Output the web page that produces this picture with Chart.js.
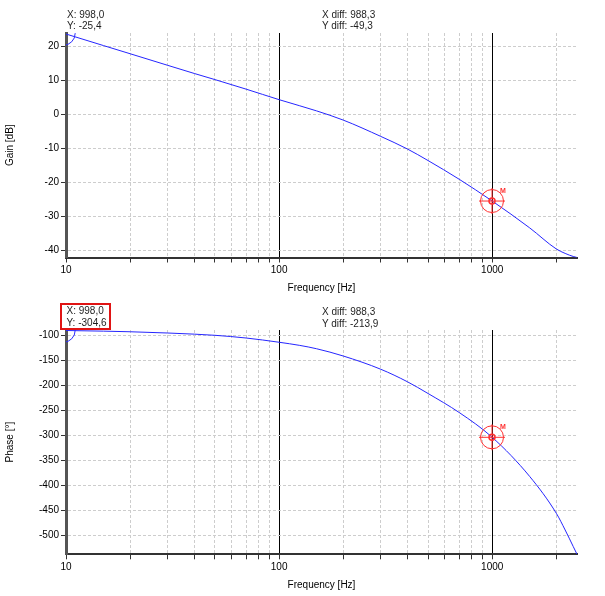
<!DOCTYPE html>
<html>
<head>
<meta charset="utf-8">
<script src="https://cdn.jsdelivr.net/npm/chart.js@4.4.0/dist/chart.umd.min.js"></script>
<style>
  body { margin: 0; background: #fff; }
  #page { position: relative; width: 605px; height: 596px; overflow: hidden; font-family: "Liberation Sans", Arial, sans-serif; }
  canvas { position: absolute; left: 0; }
  .note { position: absolute; font-size: 10px; line-height: 10px; color: #1e1e1e; white-space: nowrap; }
  .box { position: absolute; border: 2px solid #e01414; }
</style>
</head>
<body>
<div id="page">
  <canvas id="gainChart" width="605" height="295" style="top:0"></canvas>
  <canvas id="phaseChart" width="605" height="301" style="top:295px"></canvas>
  <div class="box" style="left:60px; top:303px; width:47px; height:23px"></div>
  <div class="note" id="gX" style="left:67px; top:9.5px"></div>
  <div class="note" id="gY" style="left:67px; top:20.5px"></div>
  <div class="note" id="gDX" style="left:322px; top:9.5px"></div>
  <div class="note" id="gDY" style="left:322px; top:20.5px"></div>
  <div class="note" id="pX" style="left:66.5px; top:306px"></div>
  <div class="note" id="pY" style="left:66.5px; top:318px"></div>
  <div class="note" id="pDX" style="left:322px; top:306.5px"></div>
  <div class="note" id="pDY" style="left:322px; top:319px"></div>
</div>
<script>
// frequency response
const freqHz   = [10, 15, 20, 30, 40, 50, 70, 100, 125, 150, 200, 300, 400, 500, 700, 1000, 1500, 2000, 2200, 2400, 2500];
const gainDb   = [23.7, 20.3, 17.9, 14.5, 12.1, 10.3, 7.5, 4.4, 2.6, 1.1, -1.6, -6.4, -10.1, -13.5, -19.0, -25.4, -33.3, -39.5, -40.8, -41.7, -42.0];
const phaseDeg = [-91, -92.3, -93.5, -96, -98.3, -100.6, -106, -114.5, -120.8, -127.5, -142, -168.5, -193.5, -217, -255, -304.6, -383, -456.7, -490, -523, -538.5];

const freqTicks  = [10, 20, 30, 40, 50, 60, 70, 80, 90, 100, 200, 300, 400, 500, 600, 700, 800, 900, 1000, 2000];
const freqLabels = [10, 100, 1000];
const gainTicks  = [20, 10, 0, -10, -20, -30, -40];
const phaseTicks = [-100, -150, -200, -250, -300, -350, -400, -450, -500];

const freqRange  = [10, 2500];
const gainRange  = [-42, 24];
const phaseRange = [-538.6, -90];

// reference cursor and marker M
const refFreq = 9.7, refGain = 23.9, refPhase = -90.7;
const markFreq = 998, markGain = -25.4, markPhase = -304.6;

const font = { family: '"Liberation Sans", Arial, sans-serif', size: 10 };
Chart.defaults.color = '#000';
Chart.defaults.font = font;

const fmt = v => v.toFixed(1).replace('.', ',');
document.getElementById('gX').textContent = 'X: ' + fmt(markFreq);
document.getElementById('gY').textContent = 'Y: ' + fmt(markGain);
document.getElementById('gDX').textContent = 'X diff: ' + fmt(markFreq - refFreq);
document.getElementById('gDY').textContent = 'Y diff: ' + fmt(markGain - refGain);
document.getElementById('pX').textContent = 'X: ' + fmt(markFreq);
document.getElementById('pY').textContent = 'Y: ' + fmt(markPhase);
document.getElementById('pDX').textContent = 'X diff: ' + fmt(markFreq - refFreq);
document.getElementById('pDY').textContent = 'Y diff: ' + fmt(markPhase - refPhase);

const cursorPlugin = {
  id: 'cursors',
  afterDatasetsDraw(chart, args, opts) {
    const { ctx, chartArea: a, scales: { x, y } } = chart;
    const rx = x.getPixelForValue(opts.refX), ry = y.getPixelForValue(opts.refY);
    ctx.save();
    ctx.beginPath();
    ctx.rect(a.left, a.top, a.right - a.left, a.bottom - a.top);
    ctx.clip();
    ctx.strokeStyle = '#2b2bff';
    ctx.lineWidth = 1;
    ctx.beginPath();
    ctx.arc(rx, ry, 12, 0, Math.PI * 2);
    ctx.stroke();
    ctx.restore();

    const mx = x.getPixelForValue(opts.markX), my = y.getPixelForValue(opts.markY);
    ctx.save();
    ctx.strokeStyle = '#ff3030';
    ctx.lineWidth = 1;
    ctx.beginPath();
    ctx.arc(mx, my, 11.5, 0, Math.PI * 2);
    ctx.moveTo(mx - 13, my); ctx.lineTo(mx + 13, my);
    ctx.moveTo(mx, my - 13); ctx.lineTo(mx, my + 13);
    ctx.stroke();
    ctx.lineWidth = 1.5;
    ctx.beginPath();
    ctx.arc(mx, my, 3, 0, Math.PI * 2);
    ctx.stroke();
    ctx.fillStyle = '#ff3030';
    ctx.font = 'bold 7px "Liberation Sans", Arial, sans-serif';
    ctx.fillText('M', mx + 8, my - 8);
    ctx.restore();
  }
};

function bodeChart(id, values, yRange, yTicks, yTitle, padTop, xHeight, titlePadBottom, refY, markY) {
  return new Chart(document.getElementById(id), {
    type: 'line',
    data: {
      datasets: [{
        data: freqHz.map((f, i) => ({ x: f, y: values[i] })),
        borderColor: '#2626ff',
        borderWidth: 1,
        pointRadius: 0,
        cubicInterpolationMode: 'monotone'
      }]
    },
    options: {
      responsive: false,
      animation: false,
      layout: { padding: { top: padTop, right: 28, left: 0, bottom: 0 } },
      plugins: {
        legend: { display: false },
        tooltip: { enabled: false },
        cursors: { refX: refFreq, refY: refY, markX: markFreq, markY: markY }
      },
      scales: {
        x: {
          type: 'logarithmic',
          min: freqRange[0],
          max: freqRange[1],
          afterBuildTicks: s => { s.ticks = freqTicks.map(v => ({ value: v })); },
          afterFit: s => { s.height = xHeight; },
          ticks: {
            autoSkip: false,
            maxRotation: 0,
            padding: 2,
            callback: v => freqLabels.includes(v) ? String(v) : ''
          },
          grid: {
            color: c => (c.tick && (c.tick.value === 100 || c.tick.value === 1000)) ? '#000' :
                        (c.tick && c.tick.value === 10) ? '#333' : '#cdcdcd',
            tickColor: '#333',
            tickLength: 5
          },
          border: {
            color: '#333',
            width: 2,
            dash: c => (c.tick && freqLabels.includes(c.tick.value)) ? [] : [3, 2]
          },
          title: { display: true, text: 'Frequency [Hz]', padding: { top: 0, bottom: titlePadBottom } }
        },
        y: {
          min: yRange[0],
          max: yRange[1],
          afterBuildTicks: s => { s.ticks = yTicks.map(v => ({ value: v })); },
          afterFit: s => { s.width = 66; },
          ticks: { padding: 2, callback: v => String(v) },
          grid: { color: '#cdcdcd', tickColor: '#333', tickLength: 5 },
          border: { color: '#555', width: 3, dash: [3, 2] },
          title: { display: true, text: yTitle, padding: { top: 4, bottom: 0 } }
        }
      }
    },
    plugins: [cursorPlugin]
  });
}

bodeChart('gainChart', gainDb, gainRange, gainTicks, 'Gain [dB]', 33, 37.5, 1, refGain, markGain);
bodeChart('phaseChart', phaseDeg, phaseRange, phaseTicks, 'Phase [°]', 35, 41.7, 5, refPhase, markPhase);
</script>
</body>
</html>
